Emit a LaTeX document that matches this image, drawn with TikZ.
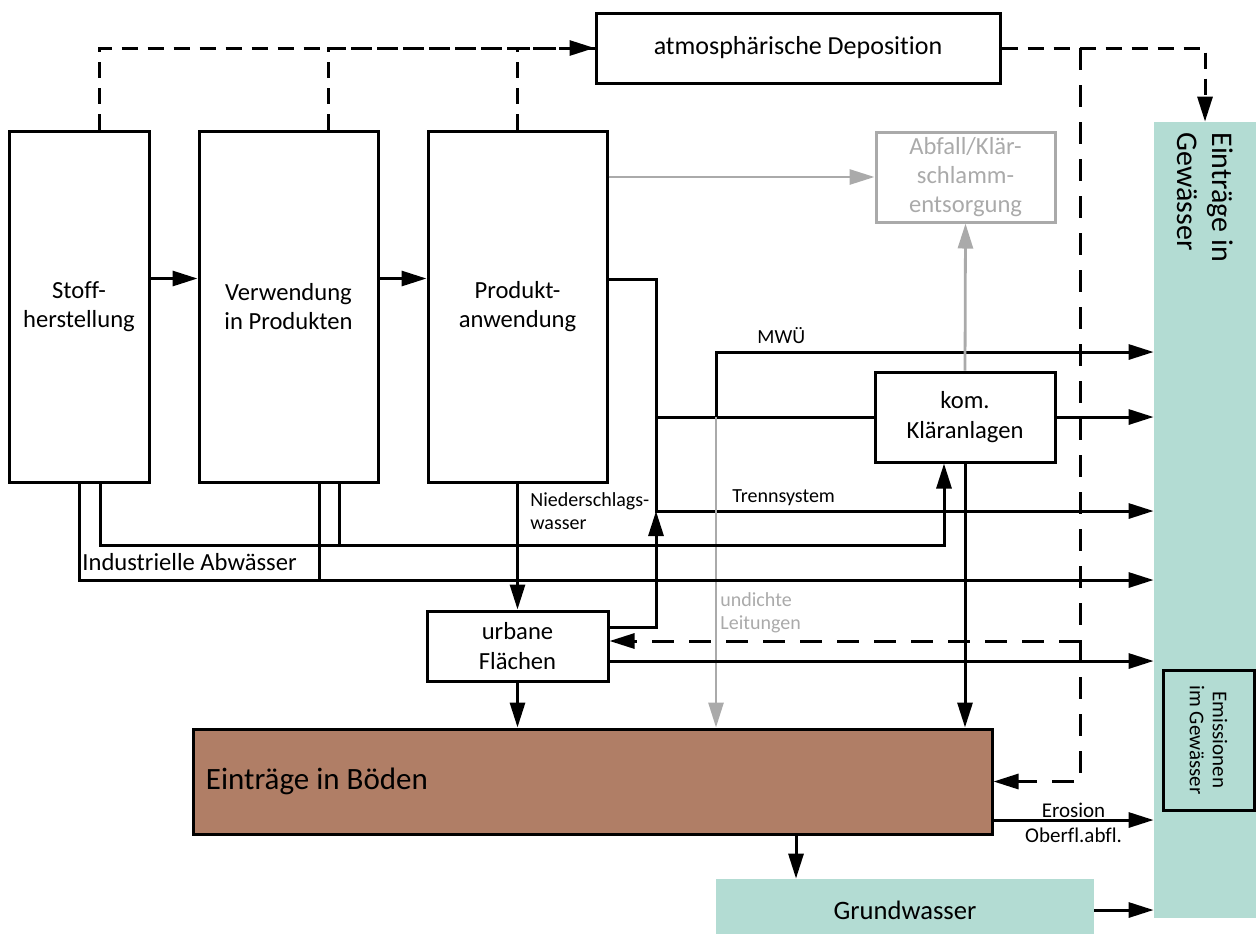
\documentclass[tikz,border=0pt]{standalone}
\usepackage{fontspec}
\setmainfont{Carlito}[Ligatures=NoCommon]
\usetikzlibrary{arrows.meta,calc}

\definecolor{wasser}{HTML}{B3DCD3}
\definecolor{boden}{HTML}{B07E66}
\definecolor{grau}{HTML}{AAAAAA}

\begin{document}
\begin{tikzpicture}[x=0.5pt,y=-0.5pt,
    box/.style={draw,line width=1.5pt,inner sep=0pt,align=center,
      font=\fontsize{12.3}{14.6}\selectfont},
    flow/.style={line width=1.5pt},
    arr/.style={flow,-{Triangle[length=12.5pt,width=7.5pt]}},
    grayarr/.style={arr,draw=grau,line width=1.4pt},
    dsh/.style={dash pattern=on 8pt off 5pt},
    dshl/.style={dash pattern=on 11pt off 7.5pt},
    lbl/.style={inner sep=0pt,font=\fontsize{10}{11.5}\selectfont}]
  \useasboundingbox (0,0) rectangle (1256,933);

  % Boxes
  \node[box,minimum width=70pt,minimum height=175.5pt] (stoff) at (79,306.5) {Stoff-\\herstellung};
  \node[box,minimum width=89.5pt,minimum height=175.5pt] (verw) at (288.5,306.5) {Verwendung\\in Produkten};
  \node[box,minimum width=89.5pt,minimum height=175.5pt] (prod) at (517.5,306.5) {Produkt-\\anwendung};
  \node[box,minimum width=202pt,minimum height=35pt,font=\fontsize{13}{15}\selectfont] (atmos) at (798,48) {atmosphärische Deposition};
  \node[box,draw=grau,text=grau,minimum width=89.5pt,minimum height=45pt] (abfall) at (965.5,177) {Abfall/Klär-\\schlamm-\\entsorgung};
  \node[box,minimum width=90pt,minimum height=45pt] (klaer) at (965,417) {kom.\\Kläranlagen};
  \node[box,minimum width=90.5pt,minimum height=35pt] (urban) at (517.5,646) {urbane\\Flächen};
  \node[box,fill=boden,minimum width=399.5pt,minimum height=52.5pt] (boeden) at (592.5,781.5) {};
  \node[anchor=west,inner sep=0pt,font=\fontsize{15.5}{18}\selectfont] (boedentxt) at ($(boeden.west)+(14,0)$) {Einträge in Böden};
  \node[fill=wasser,inner sep=0pt,minimum width=189pt,minimum height=31pt,font=\fontsize{13.3}{16}\selectfont] (grund) at (905,910) {Grundwasser};
  \node[fill=wasser,inner sep=0pt,minimum width=51pt,minimum height=398pt] (gew) at (1205,520) {};
  \node[rotate=-90,anchor=north west,align=left,inner sep=0pt,font=\fontsize{15}{17.5}\selectfont] (gewtxt) at (1234,132) {Einträge in\\Gewässer};
  \node[box,fill=wasser,minimum width=45.5pt,minimum height=70pt] (emis) at (1208.5,740) {};
  \node[rotate=-90,align=center,inner sep=0pt,font=\fontsize{10.5}{11.5}\selectfont] (emistxt) at (emis) {Emissionen\\im Gewässer};

  % Atmosphaerische Deposition
  \draw[flow,dsh,arr] ($(stoff.north)+(20,0)$) |- (atmos.west);
  \draw[flow,dsh] ($(verw.north)+(40,0)$) |- (atmos.west);
  \draw[flow,dsh] (prod.north) |- (atmos.west);
  \draw[flow,dsh,arr] (atmos.east) -| (gew.north);
  \coordinate (dv) at ($(atmos.east)+(79,0)$);
  \draw[flow,dshl,arr] (dv) |- (boeden.east);
  \coordinate (ud) at ($(urban.east)+(0,-5)$);
  \draw[flow,dshl,arr] (ud -| dv) -- (ud);

  % Stofffluss
  \draw[arr] ($(stoff.east)+(0,-28)$) -- ($(verw.west)+(0,-28)$);
  \draw[arr] ($(verw.east)+(0,-28)$) -- ($(prod.west)+(0,-28)$);

  % Kanalisation
  \coordinate (j1) at (656,511);
  \draw[arr] ($(prod.east)+(0,-27)$) -| (j1) -- (j1 -| gew.west);
  \draw[flow] (j1 |- klaer.west) -- (klaer.west);
  \coordinate (mw) at (716,352);
  \draw[arr] (mw |- klaer.west) -- (mw) -- (mw -| gew.west);
  \draw[arr] (klaer.east) -- (klaer.east -| gew.west);
  \draw[arr] (klaer.south) -- (klaer.south |- boeden.north);

  % Abfall
  \draw[grayarr] (abfall.west -| prod.east) -- (abfall.west);
  \draw[grayarr] (klaer.north) -- (abfall.south);
  \draw[grayarr] (mw |- klaer.west) -- (mw |- boeden.north);

  % Industrielle Abwaesser
  \coordinate (iw) at (944,545);
  \draw[arr] ($(stoff.south)+(21,0)$) |- (iw) -- (iw |- klaer.south);
  \coordinate (v1) at ($(verw.south)+(50.5,0)$);
  \draw[flow] (v1) -- (v1 |- iw);
  \coordinate (ia) at (80,580);
  \draw[arr] (stoff.south) |- (ia -| gew.west);
  \coordinate (v2) at ($(verw.south)+(30.5,0)$);
  \draw[flow] (v2) -- (v2 |- ia);

  % Urbane Flaechen
  \draw[arr] (prod.south) -- (urban.north);
  \draw[arr] ($(urban.east)+(0,-19)$) -| (j1);
  \coordinate (u2) at ($(urban.east)+(0,15)$);
  \draw[arr] (u2) -- (u2 -| gew.west);
  \draw[arr] (urban.south) -- (urban.south |- boeden.north);

  % Boeden
  \coordinate (er) at ($(boeden.east)+(0,38.5)$);
  \draw[arr] (er) -- (er -| gew.west)
    node[midway,above=0.5pt,lbl,font=\fontsize{10.5}{12}\selectfont] (erlbl) {Erosion}
    node[midway,below=3pt,lbl,font=\fontsize{10.5}{12}\selectfont] (oblbl) {Oberfl.abfl.};
  \coordinate (bg) at ($(boeden.south)+(203.5,0)$);
  \draw[arr] (bg) -- (bg |- grund.north);
  \draw[arr] (grund.east) -- (grund.east -| gew.west);

  % Labels
  \node[lbl,anchor=base west] (mwlbl) at (757,343) {MWÜ};
  \node[lbl,anchor=base west] (tslbl) at (732,502) {Trennsystem};
  \node[lbl,anchor=north west,align=left] (nslbl) at (530,492) {Niederschlags-\\wasser};
  \node[lbl,anchor=north west,align=left,text=grau] (udlbl) at (720,592) {undichte\\Leitungen};
  \node[anchor=base west,inner sep=0pt,font=\fontsize{12.3}{14.6}\selectfont] (indlbl) at (82,570) {Industrielle Abwässer};
\end{tikzpicture}
\end{document}
